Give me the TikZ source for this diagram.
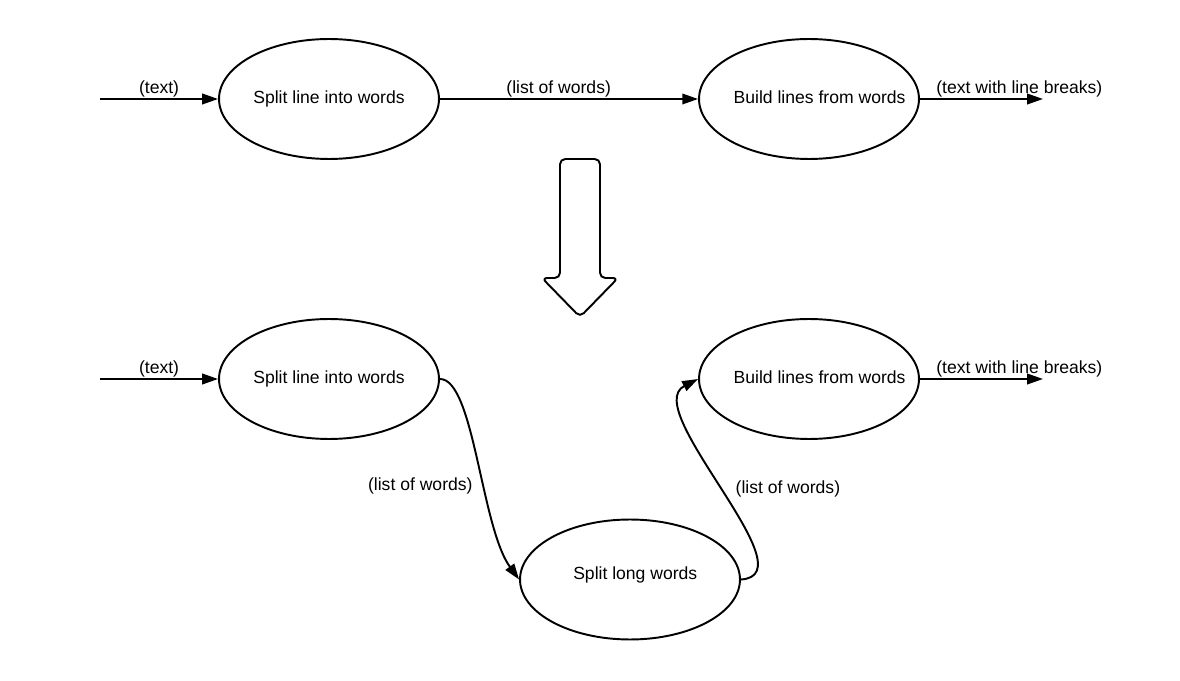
\documentclass[tikz,border=0pt]{standalone}
\usepackage{fontspec}
\setmainfont{Liberation Sans}
\usetikzlibrary{shapes.geometric,arrows.meta}

\begin{document}
\begin{tikzpicture}[x=0.02cm,y=0.02cm,line width=1.1pt,
	every node/.style={font=\fontsize{10}{12}\selectfont},
	ell/.style={draw,ellipse,minimum width=4.4cm,minimum height=2.4cm,inner sep=0pt},
	lbl/.style={inner sep=0.3pt},
	arr/.style={-{Triangle[length=9pt,width=6pt]}}]
	\useasboundingbox (0,0) rectangle (1180,680);
	\node[ell,label={center:Split line into words}] (s1) at (329,581) {};
	\node[ell,label={[xshift=6pt,yshift=1pt]center:Build lines from words}] (b1) at (809,581) {};
	\node[ell,label={center:Split line into words}] (s2) at (329,301) {};
	\node[ell,label={[xshift=6pt,yshift=1pt]center:Build lines from words}] (b2) at (809,301) {};
	\node[ell,label={[xshift=3pt,yshift=2.8pt]center:Split long words}] (lw) at (630,100.5) {};
	\coordinate (in1) at (100,581);
	\coordinate (out1) at (1043,581);
	\coordinate (in2) at (100,301);
	\coordinate (out2) at (1043,301);
	\draw[arr] (in1) -- node[lbl,above] {(text)} (s1);
	\draw[arr] (s1) -- node[lbl,above,pos=0.46] {(list of words)} (b1);
	\draw[arr] (b1) -- node[lbl,above right,pos=0,xshift=8.5pt] {(text with line breaks)} (out1);
	\draw[arr] (in2) -- node[lbl,above] {(text)} (s2);
	\draw[arr] (b2) -- node[lbl,above right,pos=0,xshift=8.5pt] {(text with line breaks)} (out2);
	\draw[arr] (s2.east) .. controls (474,301) and (481,153) .. node[lbl,left,pos=0.6,xshift=-6pt] {(list of words)} (lw.west);
	\draw[arr] (lw.east) .. controls (811,105) and (639,271) .. node[lbl,right,pos=0.5,xshift=6pt] {(list of words)} (b2.west);
	\draw[line width=1.1pt,rounded corners=3pt]
		(560,521) -- (600,521) -- (600,402) -- (618,402) -- (580,363)
		-- (542,402) -- (560,402) -- cycle;
\end{tikzpicture}
\end{document}
